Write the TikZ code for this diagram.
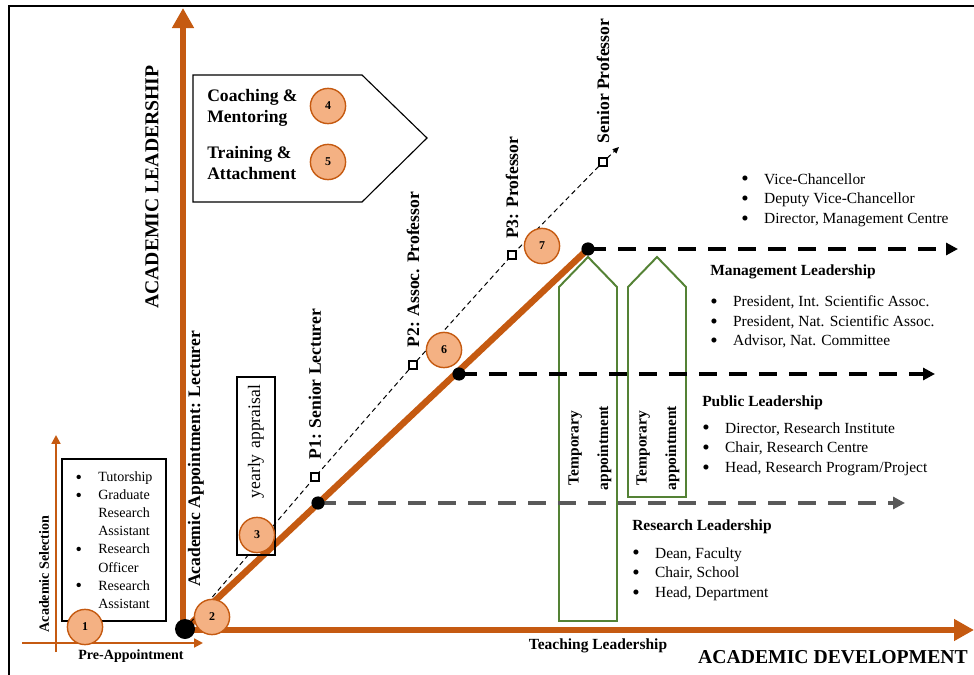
\documentclass[tikz,border=0pt]{standalone}
\usepackage{fontspec}
\setmainfont{Liberation Serif}
\usetikzlibrary{arrows.meta}
\definecolor{axisorange}{RGB}{197,90,17}
\definecolor{badgefill}{RGB}{244,177,131}
\definecolor{tempgreen}{RGB}{84,130,53}
\definecolor{leadgray}{RGB}{89,89,89}
\newcommand{\fs}[2]{\fontsize{#1}{#2}\selectfont}
\newcommand{\itm}[2][15]{\makebox[0.57cm][l]{\raisebox{-1.3pt}[0pt][0pt]{\fs{#1}{#1}\textbullet}}#2}% bullet item
\newcommand{\cnt}[1]{\hspace*{0.57cm}#1}% wrapped item line

\begin{document}
\begin{tikzpicture}[x=0.025cm,y=-0.025cm,
      axis/.style={line width=4.6pt,axisorange,-{Triangle[length=0.5cm,width=0.52cm]}},
      subaxis/.style={line width=1.4pt,axisorange,-{Triangle[length=0.22cm,width=0.22cm]}},
      rise/.style={line width=4.6pt,axisorange},
      track/.style={line width=0.7pt,dash pattern=on 3.5pt off 2.5pt,-{Triangle[length=0.16cm,width=0.14cm]}},
      route/.style={line width=2.8pt,dash pattern=on 0.45cm off 0.3cm,-{Triangle[length=0.3cm,width=0.3cm]}},
      knot/.style={circle,fill=black,inner sep=0,minimum size=0.33cm},
      gate/.style={draw,fill=white,line width=0.9pt,inner sep=0,minimum size=0.2cm},
      badge/.style={circle,draw=axisorange,fill=badgefill,line width=1pt,inner sep=0,
                    minimum size=0.88cm,font=\fs{8.5}{10}\bfseries},
      rank/.style={rotate=90,anchor=west,inner sep=0,font=\fs{12.5}{15}\bfseries},
      temp/.style={draw=tempgreen,line width=1.4pt},
      list/.style={anchor=west,inner sep=0,align=left,font=\fs{11}{14}},
      head/.style={anchor=west,inner sep=0,font=\fs{11}{14}\bfseries}]

    \useasboundingbox (0,0) rectangle (974,675);
    \draw[line width=1pt] (9,675) -- (9,6) -- (974,6);

    % ---- key points on the career line ----------------------------------
    \coordinate (o)  at (183,630);
    \coordinate (k0) at (185,629);
    \coordinate (k1) at (318,503);
    \coordinate (k2) at (459,374);
    \coordinate (k3) at (588,249);
    \coordinate (q1) at (315,477);
    \coordinate (q2) at (413,365);
    \coordinate (q3) at (512,255);
    \coordinate (q4) at (603,162);
    \coordinate (qtip) at (619,147);

    % ---- temporary appointments (green up-arrows) ------------------------
    \draw[temp] (559,621) -- (559,287) -- (588,257) -- (617,287) -- (617,621) -- cycle;
    \draw[temp] (628,497) -- (628,287) -- (657,257) -- (686,287) -- (686,497) -- cycle;
    \node[rotate=90,align=center,font=\fs{11}{21}\bfseries] (ta) at (590,448)
          {Temporary\\appointment};
    \node[rotate=90,align=center,font=\fs{11}{21}\bfseries] (tb) at (658,448)
          {Temporary\\appointment};

    % ---- pre-appointment axes --------------------------------------------
    \coordinate (sv0) at (56,652);  \coordinate (sv1) at (56,435);
    \coordinate (sh0) at (22,643);  \coordinate (sh1) at (203,643);
    \draw[subaxis] (sv0) -- (sv1);
    \draw[subaxis] (sh0) -- (sh1);

    % ---- main axes and career line ---------------------------------------
    \coordinate (ytip) at (183,8);
    \coordinate (xtip) at (974,630);
    \draw[axis] (o) -- (ytip);
    \draw[axis] (o) -- (xtip);
    \draw[rise] (k0) -- (k3);
    \draw[track] (k0) -- (q1) -- (q2) -- (q3) -- (q4) -- (qtip);

    % ---- leadership tracks -----------------------------------------------
    \coordinate (e1) at (905,503);
    \coordinate (e2) at (935,374);
    \coordinate (e3) at (958,249);
    \draw[route,leadgray] (k1) -- (e1);
    \draw[route] (k2) -- (e2);
    \draw[route] (k3) -- (e3);

    \node[knot,minimum size=0.5cm] (d0) at (k0) {};
    \node[knot] (d1) at (k1) {};
    \node[knot] (d2) at (k2) {};
    \node[knot] (d3) at (k3) {};
    \node[gate] (s1) at (q1) {};
    \node[gate] (s2) at (q2) {};
    \node[gate] (s3) at (q3) {};
    \node[gate] (s4) at (q4) {};

    % ---- promotion ranks -------------------------------------------------
    \node[rank] (p1) at ([yshift=9pt]s1.north) {P1: Senior Lecturer};
    \node[rank] (p2) at ([yshift=9pt]s2.north) {P2: Assoc. Professor};
    \node[rank] (p3) at ([yshift=8pt]s3.north) {P3: Professor};
    \node[rank] (p4) at ([yshift=10pt]s4.north) {Senior Professor};

    % ---- boxes -----------------------------------------------------------
    \node[draw,line width=0.8pt,inner sep=0,minimum width=2.6cm,minimum height=4.05cm,
          align=left,font=\fs{10}{12.9}] (pre) at (114,540)
          {\itm[13]{Tutorship}\\\itm[13]{Graduate}\\\cnt{Research}\\\cnt{Assistant}\\
           \itm[13]{Research}\\\cnt{Officer}\\\itm[13]{Research}\\\cnt{Assistant}};
    \node[draw,line width=0.8pt,rotate=90,inner xsep=0.2cm,inner ysep=0,
          minimum height=0.95cm,text width=4.05cm,align=right,font=\fs{12.5}{15}] (yr)
          at (256,466) {yearly appraisal};
    \draw[line width=0.8pt] (193,75) -- (362,75) -- (427,138) -- (362,202) -- (193,202) -- cycle;
    \node[anchor=west,inner sep=0,align=left,font=\fs{12.5}{15}\bfseries] (coach) at (207,108)
          {Coaching \&\\Mentoring};
    \node[anchor=west,inner sep=0,align=left,font=\fs{12.5}{15}\bfseries] (train) at (207,163)
          {Training \&\\Attachment};

    % ---- numbered steps --------------------------------------------------
    \node[badge] (n1) at (85,627)  {1};
    \node[badge] (n2) at (212,617) {2};
    \node[badge] (n3) at (257,535) {3};
    \node[badge] (n4) at (328,106) {4};
    \node[badge] (n5) at (328,162) {5};
    \node[badge] (n6) at (444,350) {6};
    \node[badge] (n7) at (542,246) {7};

    % ---- axis titles -----------------------------------------------------
    \node[rotate=90,font=\fs{14}{17}\bfseries] (lead) at (152,187) {ACADEMIC LEADERSHIP};
    \node[rotate=90,font=\fs{12.5}{15}\bfseries] (lect) at (196,459) {Academic Appointment: Lecturer};
    \node[rotate=90,font=\fs{10}{12}\bfseries] (sel) at (44,574) {Academic Selection};
    \node[font=\fs{10}{12}\bfseries] (preapp) at (131,656) {Pre-Appointment};
    \node[font=\fs{11}{13}\bfseries] (teach) at (598,646) {Teaching Leadership};
    \node[font=\fs{14}{17}\bfseries] (dev) at (833,657) {ACADEMIC DEVELOPMENT};

    % ---- leadership roles ------------------------------------------------
    \node[list] (vc) at (741,200)
          {\itm{Vice-Chancellor}\\\itm{Deputy Vice-Chancellor}\\\itm{Director, Management Centre}};
    \node[head] (mgmt) at (710,272) {Management Leadership};
    \node[list] (mgl) at (710,322)
          {\itm{President, Int. Scientific Assoc.}\\\itm{President, Nat. Scientific Assoc.}\\
           \itm{Advisor, Nat. Committee}};
    \node[head] (pub) at (702,403) {Public Leadership};
    \node[list] (pbl) at (702,449)
          {\itm{Director, Research Institute}\\\itm{Chair, Research Centre}\\
           \itm{Head, Research Program/Project}};
    \node[head] (res) at (632,527) {Research Leadership};
    \node[list] (rsl) at (632,574)
          {\itm{Dean, Faculty}\\\itm{Chair, School}\\\itm{Head, Department}};
  \end{tikzpicture}
\end{document}
